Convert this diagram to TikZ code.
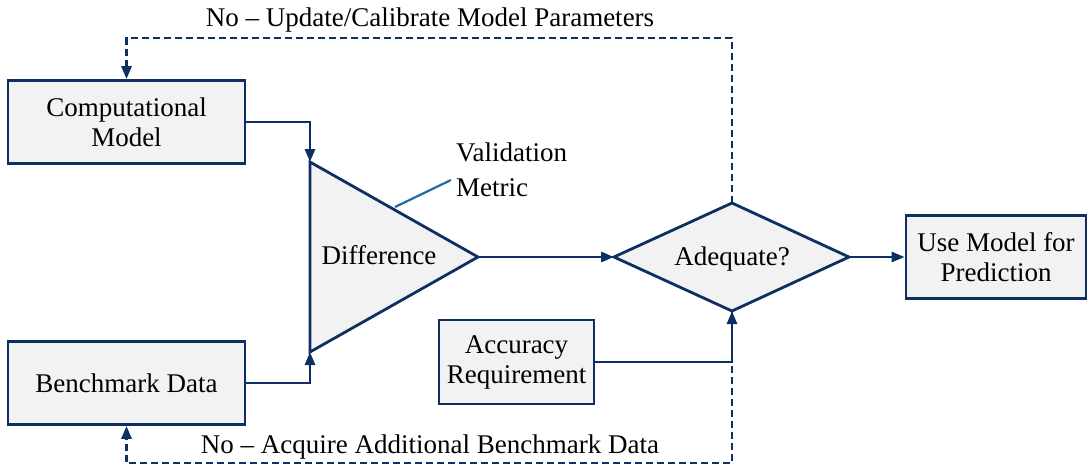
\documentclass[tikz,border=0pt]{standalone}
\usepackage{fontspec}
\setmainfont{Liberation Serif}
\usetikzlibrary{arrows.meta,calc}
\definecolor{navy}{HTML}{0E2F62}
\definecolor{lblue}{HTML}{1F6AA5}
\definecolor{boxfill}{HTML}{F2F2F2}
\tikzset{
  box/.style={draw=navy,fill=boxfill,line width=2.8pt,align=center,inner sep=0pt,
    font=\fontsize{27}{30}\selectfont},
  conn/.style={draw=navy,line width=2.8pt,-{Triangle[length=13pt,width=10pt]}},
  dconn/.style={conn,dash pattern=on 7pt off 4pt},
  lbl/.style={font=\fontsize{27}{30}\selectfont,inner sep=0pt},
  shapeline/.style={draw=navy,fill=boxfill,line width=2.8pt,line join=miter}
}
\begin{document}
\begin{tikzpicture}[x=1pt,y=-1pt]
\useasboundingbox (0,0) rectangle (1088,466);
% nodes
\node[box,minimum width=237pt,minimum height=83pt] (cm) at (126.5,122) {Computational\\Model};
\node[box,minimum width=237pt,minimum height=83pt] (bd) at (126.5,383) {Benchmark Data};
\node[box,minimum width=180pt,minimum height=83pt] (use) at (996,257) {Use Model for\\Prediction};
\node[box,minimum width=155pt,minimum height=84pt] (acc) at (516.5,362) {Accuracy\\Requirement};
% triangle
\coordinate (dT) at (310,162);
\coordinate (dB) at (310,352);
\coordinate (dA) at (478,257);
\path[shapeline] (dT) -- (dA) -- (dB) -- cycle;
\node[lbl] (diff) at (379,255) {Difference};
% diamond
\coordinate (aL) at (614,257);
\coordinate (aR) at (849,257);
\coordinate (aT) at (732,203);
\coordinate (aB) at (732,311);
\path[shapeline] (aL) -- (aT) -- (aR) -- (aB) -- cycle;
\node[lbl] (adq) at (732,259) {Adequate?};
% validation metric
\node[lbl,anchor=west,align=left,font=\fontsize{27}{35}\selectfont] (val) at (456,170) {Validation\\Metric};
\coordinate (vs) at (395,207);
\coordinate (ve) at (451,180);
\draw[lblue,line width=2.2pt] (vs) -- (ve);
% dashed loops
\coordinate (tr) at (732,38);
\coordinate (br) at (732,463);
\draw[dconn] (aT) -- (tr) -| (cm.north);
\draw[dconn] (aB) -- (br) -| (bd.south);
\node[lbl] (top) at (430,20) {No – Update/Calibrate Model Parameters};
\node[lbl] (bot) at (430,447) {No – Acquire Additional Benchmark Data};
% solid connectors
\draw[conn] (cm.east) -| (dT);
\draw[conn] (bd.east) -| (dB);
\draw[conn] (dA) -- (aL);
\draw[conn] (aR) -- (use.west);
\draw[conn] (acc.east) -| (aB);
\end{tikzpicture}
\end{document}
